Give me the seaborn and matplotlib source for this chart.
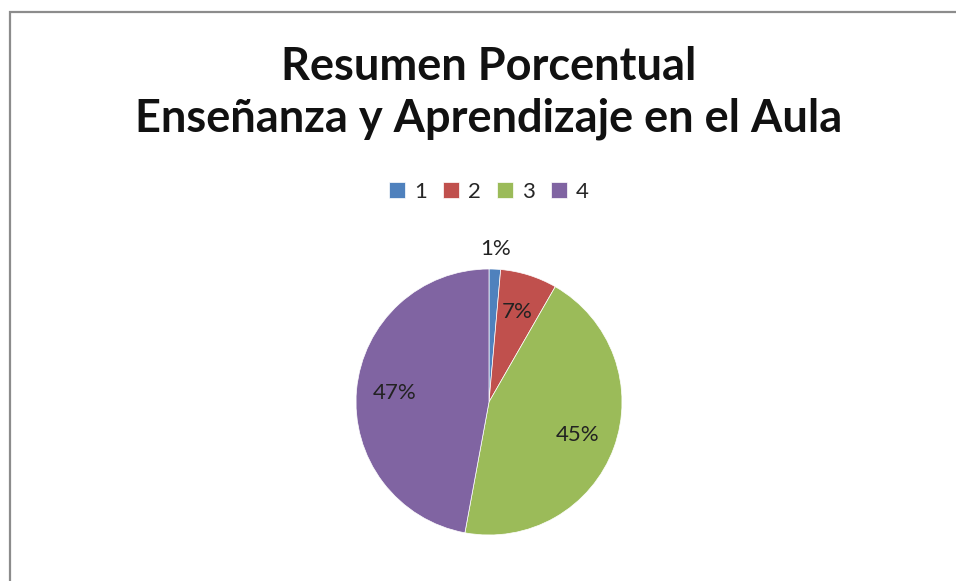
import matplotlib.pyplot as plt
import seaborn as sns
from matplotlib.patches import Rectangle
import numpy as np

# datos
categorias = ['1', '2', '3', '4']
porcentajes = [1.4, 6.9, 44.6, 47.1]
colores = ['#4F81BD', '#C0504D', '#9BBB59', '#8064A2']
titulo = "Resumen Porcentual\nEnseñanza y Aprendizaje en el Aula"

sns.set_theme(style="white")
plt.rcParams['font.family'] = ['Lato', 'DejaVu Sans']

fig = plt.figure(figsize=(9.56, 5.81), dpi=100)
W, H = 956, 581

# marco del gráfico
fig.patches.append(Rectangle((9.5 / W, -0.1), 1.2, 1 - 11.5 / H + 0.1,
                             transform=fig.transFigure, fill=False,
                             edgecolor='#8c8c8c', linewidth=1.6))

# pastel
ax = fig.add_axes([(489 - 133) / W, (581 - 535) / H, 266 / W, 266 / H])
wedges, textos, autotextos = ax.pie(
    porcentajes, colors=colores, startangle=90, counterclock=False,
    autopct='%.0f%%', pctdistance=0.71, radius=1,
    wedgeprops=dict(edgecolor='white', linewidth=0.5),
    textprops=dict(fontsize=16, color='#222222'))
ax.set_xlim(-1, 1)
ax.set_ylim(-1, 1)

# la etiqueta 1% va afuera
x0, y0 = autotextos[0].get_position()
autotextos[0].set_position((x0 / 0.71 * 1.15, y0 / 0.71 * 1.15))

# titulo
fig.text(489 / W, 1 - 93 / H, titulo, ha='center', va='center',
         fontsize=32.5, fontweight='bold', linespacing=1.3, color='#111111')

# leyenda
fig.legend(wedges, categorias, loc='center', bbox_to_anchor=(489 / W, 1 - 192 / H),
           ncol=4, frameon=False, fontsize=16, handlelength=0.7, handleheight=0.7,
           handletextpad=0.4, columnspacing=0.75)

plt.savefig("out.png", dpi=100)
